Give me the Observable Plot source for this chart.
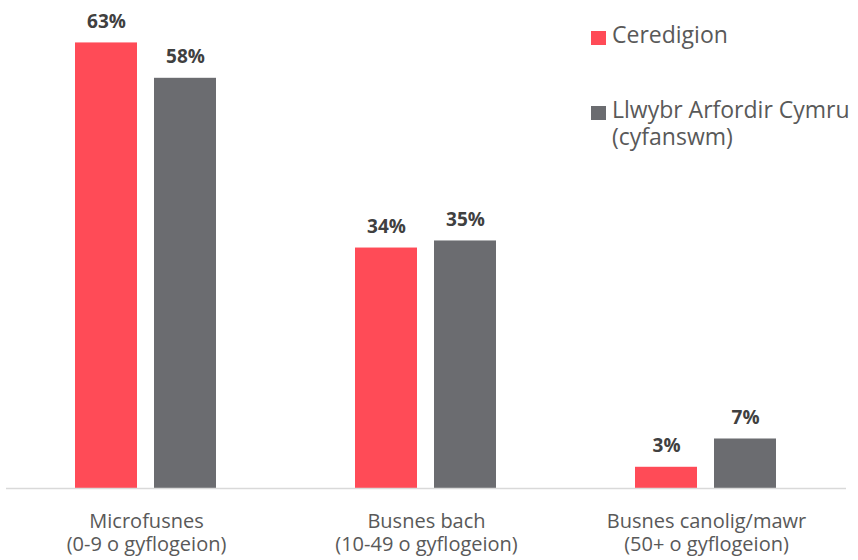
<!DOCTYPE html>
<html>
<head>
<meta charset="utf-8">
<script src="https://cdn.jsdelivr.net/npm/d3@7"></script>
<script src="https://cdn.jsdelivr.net/npm/@observablehq/plot@0.6"></script>
<style>
  body { margin: 0; background: #fff; }
  #wrap { position: relative; width: 858px; height: 560px; font-family: "Open Sans", Lato, sans-serif; }
  #legend { position: absolute; left: 591px; top: 0; color: #595959; font-size: 23px; line-height: 27px; }
  .item { position: absolute; left: 0; white-space: nowrap; }
  .sw { position: absolute; left: 0; width: 15px; height: 14px; }
  .lbl { position: absolute; left: 21px; }
</style>
</head>
<body>
<div id="wrap"></div>
<script>
const categories = ["Microfusnes\n(0-9 o gyflogeion)", "Busnes bach\n(10-49 o gyflogeion)", "Busnes canolig/mawr\n(50+ o gyflogeion)"];
const seriesNames = ["Ceredigion", "Llwybr Arfordir Cymru (cyfanswm)"];
const ceredigion = [63, 34, 3];
const llwybr = [58, 35, 7];
const colors = ["#FF4B57", "#6B6C70"];

const data = [];
categories.forEach((c, i) => {
  data.push({category: c, series: seriesNames[0], value: ceredigion[i]});
  data.push({category: c, series: seriesNames[1], value: llwybr[i]});
});

const chart = Plot.plot({
  width: 858,
  height: 560,
  marginTop: 0,
  marginBottom: 72,
  marginLeft: 5,
  marginRight: 11,
  style: {fontFamily: "'Open Sans', Lato, sans-serif", background: "#fff"},
  fx: {domain: categories, padding: 0, label: null},
  x: {domain: seriesNames, paddingInner: 0.2125, paddingOuter: 0.86, axis: null},
  y: {domain: [0, 69], axis: null},
  color: {domain: seriesNames, range: colors},
  marks: [
    Plot.barY(data, {fx: "category", x: "series", y: "value", fill: "series"}),
    Plot.ruleY([0], {stroke: "#D9D9D9", strokeWidth: 1.3}),
    Plot.text(data, {fx: "category", x: "series", y: "value", text: d => d.value + "%", dy: -15, lineAnchor: "bottom", fontWeight: "bold", fontSize: 19, fill: "#404040"}),
    Plot.axisFx({anchor: "bottom", tickSize: 0, tickPadding: 24, fontSize: 20, lineHeight: 1.12, color: "#595959", label: null})
  ]
});

const wrap = document.getElementById("wrap");
wrap.appendChild(chart);

const legend = document.createElement("div");
legend.id = "legend";
legend.innerHTML = `
  <div class="item" style="top:21px"><div class="sw" style="top:10px;background:${colors[0]}"></div><div class="lbl">${seriesNames[0]}</div></div>
  <div class="item" style="top:96px"><div class="sw" style="top:10px;background:${colors[1]}"></div><div class="lbl">Llwybr Arfordir Cymru<br>(cyfanswm)</div></div>
`;
wrap.appendChild(legend);
</script>
</body>
</html>
